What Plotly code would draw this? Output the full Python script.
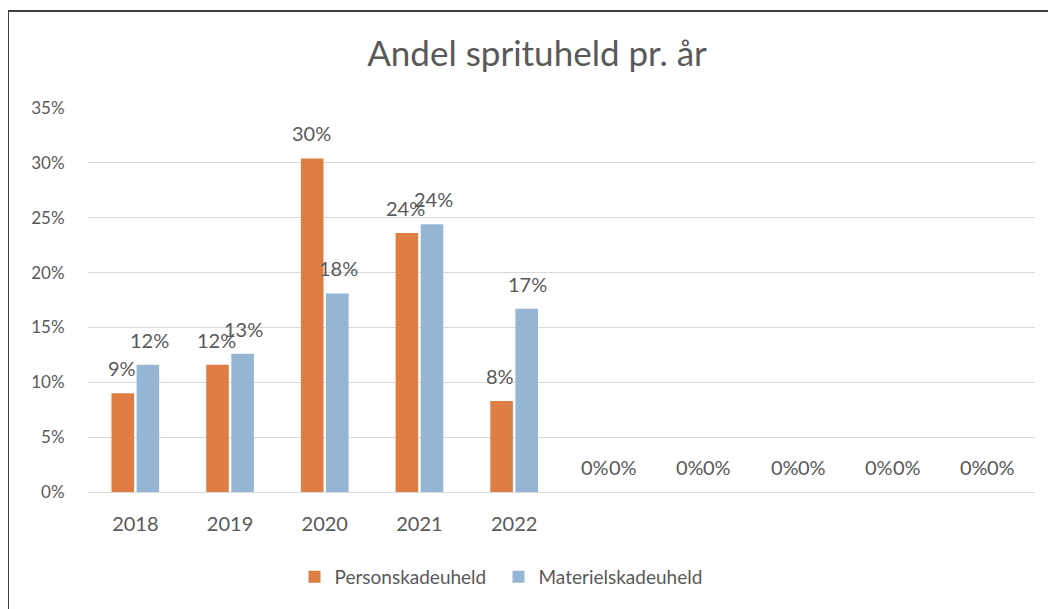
import plotly.graph_objects as go

categories = ["2018", "2019", "2020", "2021", "2022", "", "", "", "", ""]
person = [0.090, 0.116, 0.304, 0.236, 0.083, 0, 0, 0, 0, 0]
materiel = [0.116, 0.126, 0.181, 0.244, 0.167, 0, 0, 0, 0, 0]
series_names = ["Personskadeuheld", "Materielskadeuheld"]
y_ticks = [0, 0.05, 0.10, 0.15, 0.20, 0.25, 0.30, 0.35]

ORANGE = "#DE7E44"
BLUE = "#95B5D5"
TXT = "#595959"
FONT = "Lato"

OFF = 8  # page body margin
W, H = 1056, 609
# desired window-pixel positions
PL, PR, PT, PB = 88, 1035, 108, 492
L, R, T, B = PL - OFF, W - (PR - OFF), PT - OFF, H - (PB - OFF)
pw, ph = W - L - R, H - T - B


def px_x(wx):
    return (wx - OFF - L) / pw


def px_y(wy):
    return (H - B - (wy - OFF)) / ph


xs = list(range(len(categories)))

fig = go.Figure()
fig.add_trace(go.Bar(x=xs, y=person, name=series_names[0], marker_color=ORANGE,
                     marker_line_width=0))
fig.add_trace(go.Bar(x=xs, y=materiel, name=series_names[1], marker_color=BLUE,
                     marker_line_width=0))

ann = []
for vals, shift in ((person, -13.7), (materiel, 13.7)):
    for i, v in enumerate(vals):
        ann.append(dict(x=i, y=v, xref="x", yref="y", text=f"{round(v*100):.0f}%",
                        showarrow=False, xshift=shift, yshift=11, yanchor="bottom",
                        font=dict(family=FONT, size=20, color=TXT)))

fig.update_layout(
    width=W, height=H,
    margin=dict(l=L, r=R, t=T, b=B),
    paper_bgcolor="white", plot_bgcolor="white",
    barmode="group", bargap=0.47, bargroupgap=0.1,
    title=dict(text="Andel sprituheld pr. år", x=(537 - OFF) / W, xanchor="center",
               y=1 - (54 - OFF) / H, yanchor="middle",
               font=dict(family=FONT, size=35, color=TXT)),
    xaxis=dict(tickmode="array", tickvals=xs, ticktext=categories,
               range=[-0.5, len(categories) - 0.5], showgrid=False,
               showline=True, linecolor="#D9D9D9", linewidth=1,
               ticks="outside", ticklen=0, ticklabelstandoff=14,
               tickfont=dict(family=FONT, size=20, color=TXT)),
    yaxis=dict(range=[0, 0.35], tickvals=y_ticks, tickformat=".0%",
               showgrid=True, gridcolor="#D9D9D9", gridwidth=1,
               zeroline=False, ticks="outside", ticklen=0, ticklabelstandoff=19,
               tickfont=dict(family=FONT, size=17, color=TXT)),
    legend=dict(orientation="h", x=px_x(294.5), xanchor="left",
                y=px_y(577), yanchor="middle",
                font=dict(family=FONT, size=19, color=TXT),
                itemwidth=30, entrywidth=159, traceorder="normal"),
    annotations=ann,
    shapes=[dict(type="rect", xref="paper", yref="paper",
                 x0=px_x(8), x1=px_x(W + 30),
                 y0=px_y(H + 30), y1=px_y(11),
                 line=dict(color="#404040", width=2), layer="above")],
    showlegend=True,
)

fig.write_html("out.html")
